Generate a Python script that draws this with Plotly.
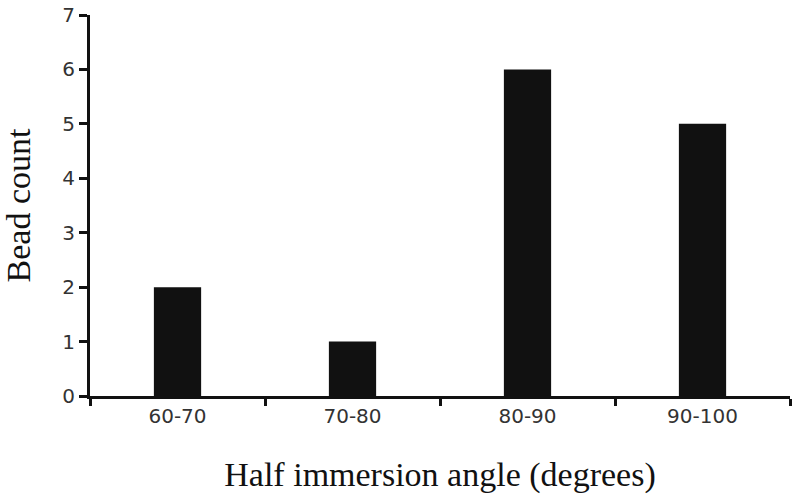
import plotly.graph_objects as go

categories = ["60-70", "70-80", "80-90", "90-100"]
counts = [2, 1, 6, 5]
y_ticks = [0, 1, 2, 3, 4, 5, 6, 7]

fig = go.Figure(go.Bar(x=categories, y=counts, marker=dict(color="#111111", line=dict(width=0)), width=0.27))

fig.update_layout(
    width=800, height=499,
    margin=dict(l=90, r=10, t=15, b=103, autoexpand=False),
    plot_bgcolor="white", paper_bgcolor="white",
    showlegend=False,
)
fig.update_xaxes(
    type="category", tickson="boundaries", ticks="outside", ticklen=7, tickwidth=3, tickcolor="#111",
    showline=True, linewidth=3, linecolor="#111", showgrid=False, range=[-0.5, 3.5], automargin=False,
    tickfont=dict(family="DejaVu Sans", size=20, color="#333"),
    title=dict(text="Half immersion angle (degrees)", font=dict(family="Liberation Serif, Times New Roman", size=34, color="#111"), standoff=36),
)
fig.update_yaxes(
    range=[0, 7], tickvals=y_ticks, ticks="outside", ticklen=8, tickwidth=3, tickcolor="#111",
    showline=True, linewidth=3, linecolor="#111", showgrid=False, zeroline=False, automargin=False,
    tickfont=dict(family="DejaVu Sans", size=20, color="#333"),
    title=dict(text="Bead count", font=dict(family="Liberation Serif, Times New Roman", size=34, color="#111"), standoff=33),
)
fig.write_html("out.html", config={"displayModeBar": False}, post_script="document.body.style.margin='0';")
